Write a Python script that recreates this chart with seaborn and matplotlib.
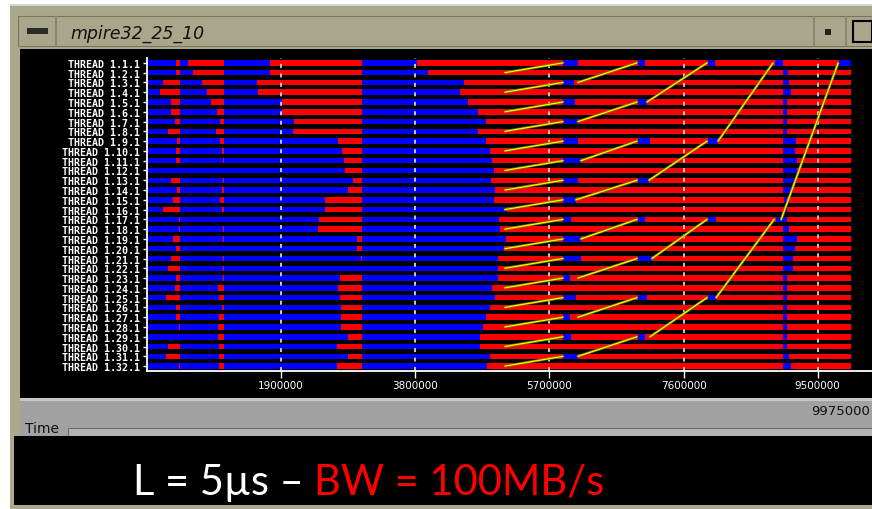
import pandas as pd
import seaborn as sns
import matplotlib
matplotlib.use("Agg")
import matplotlib.pyplot as plt
import matplotlib.patheffects as pe
from matplotlib.patches import Rectangle
from matplotlib.text import Annotation

# ---- trace data (time units, 32 threads) ----
threads = list(range(1, 33))
thread_labels = [f"THREAD 1.{i}.1" for i in threads]
end_time = 9975000

# first short red burst (ends at the same time for every thread)
red1_end = 461000
red1_start = [404000, 404000, 220000, 191000, 347000, 333000, 390000, 291000,
              432000, 404000, 404000, None, 347000, 418000, 362000, 220000,
              447000, 447000, 362000, 404000, 347000, 291000, 404000, 390000,
              276000, 404000, 404000, 447000, None, 291000, 276000, 447000]

# second red burst
red2_end = 1085000
red2_start = [574000, 645000, 773000, 844000, 900000, 985000, 1028000, 971000,
              1028000, 1056000, 1071000, None, 1071000, 1056000, 1028000, 1056000,
              None, 1071000, 1071000, None, 1071000, 1071000, 1071000, 1000000,
              1014000, 1056000, 1014000, 1000000, 1000000, 1014000, 1014000, 1014000]

# third red phase
red3_end = 3041000
red3_start = [1737000, 1737000, 1553000, 1567000, 1907000, 1907000, 2077000, 2063000,
              2701000, 2758000, 2786000, 2800000, 2914000, 2843000, 2517000, 2517000,
              2432000, 2418000, 2971000, 2971000, 3027000, None, 2730000, 2701000,
              2730000, 2744000, 2744000, 2744000, 2843000, 2687000, 2843000, 2687000]

# start of the final red (communication) phase
final_red_start = [3821000, 3984000, 4488000, 4431000, 4544000, 4686000, 4800000, 4686000,
                   4800000, 4857000, 4885000, 4914000, 4871000, 4928000, 4914000, 5098000,
                   4985000, 4999000, 5083000, 5055000, 4970000, 4970000, 4970000, 4885000,
                   4928000, 4857000, 4800000, 4757000, 4715000, 4715000, 4857000, 4814000]

# blue spots inside the red phase
recv1_threads = [1, 3, 5, 7, 9, 11, 13, 15, 17, 19, 21, 23, 25, 27, 29, 31]
recv1_start = 5891000
recv1_end = [6104000, 6047000, 6061000, 6104000, 6104000, 6146000, 6104000, 6075000,
             6005000, 6146000, 6146000, 5990000, 6075000, 5990000, 6005000, 6104000]

recv2_threads = [1, 5, 9, 13, 17, 21, 25, 29]
recv2_start = 6955000
recv2_end = [7054000, 7082000, 7125000, 7111000, 7054000, 7153000, 7082000, 7054000]

recv3_threads = [1, 9, 17, 25]
recv3_start = 7947000
recv3_end = [8046000, 8089000, 8061000, 8061000]

sync_start = [8898000, 9011000, 9011000, 9011000, 9011000, 9011000, 9011000, 9011000,
              9011000, 9011000, 9011000, 9011000, 9011000, 9011000, 9025000, 9025000,
              8912000, 9011000, 9011000, 9011000, 9011000, 9011000, 9011000, 9011000,
              9011000, 9011000, 9011000, 9011000, 9011000, 9011000, 9011000, 9011000]
sync_end = [9011000, 9082000, 9096000, 9125000, 9068000, 9068000, 9068000, 9068000,
            9196000, 9181000, 9210000, 9210000, 9181000, 9153000, 9068000, 9068000,
            9068000, 9096000, 9210000, 9181000, 9153000, 9153000, 9068000, 9068000,
            9068000, 9068000, 9068000, 9068000, 9068000, 9068000, 9096000, 9125000]

final_blue_thread = 1
final_blue_start = 9806000

# messages (yellow lines): sender thread/time -> receiver thread/time
msg_from = [2, 4, 6, 8, 10, 12, 14, 16, 18, 20, 22, 24, 26, 28, 30, 32,
            3, 7, 11, 15, 19, 23, 27, 31, 5, 13, 21, 29, 9, 25, 17]
msg_send = [5069000, 5069000, 5069000, 5069000, 5069000, 5069000, 5069000, 5069000,
            5069000, 5069000, 5069000, 5069000, 5069000, 5069000, 5069000, 5069000,
            6104000, 6104000, 6146000, 6075000, 6146000, 6104000, 6104000, 6104000,
            7082000, 7111000, 7153000, 7125000, 8089000, 8061000, 8983000]
msg_to = [1, 3, 5, 7, 9, 11, 13, 15, 17, 19, 21, 23, 25, 27, 29, 31,
          1, 5, 9, 13, 17, 21, 25, 29, 1, 9, 17, 25, 1, 17, 1]
msg_recv = [5891000, 5891000, 5891000, 5891000, 5891000, 5891000, 5891000, 5891000,
            5891000, 5891000, 5891000, 5891000, 5891000, 5891000, 5891000, 5891000,
            6941000, 6941000, 6941000, 6941000, 6941000, 6941000, 6941000, 6941000,
            7933000, 7933000, 7933000, 7933000, 8869000, 8884000, 9791000]

tick_values = [1900000, 3800000, 5700000, 7600000, 9500000]
tick_labels = ["1900000", "3800000", "5700000", "7600000", "9500000"]

BLUE, RED, YELLOW = "#0000ff", "#ff0000", "#ffff00"
BAR_H = 0.56

sns.set_theme(style="dark", rc={"axes.facecolor": "black"})
plt.rcParams["font.family"] = ["DejaVu Sans"]

W, H = 872, 510
fig = plt.figure(figsize=(W / 100, H / 100), dpi=100)
fig.patch.set_facecolor("white")


def box(x0, y0, x1, y1, color, z=-2, ec="none", lw=0):
    fig.add_artist(Rectangle((x0 / W, 1 - y1 / H), (x1 - x0) / W, (y1 - y0) / H,
                             transform=fig.transFigure, facecolor=color,
                             edgecolor=ec, lw=lw, zorder=z))


# window chrome
box(10, 5, 872, 510, "#aca88e", z=-5)
box(10, 5, 872, 7, "#d9d6c4", z=-4)
box(18, 17, 872, 47, "#aaa68b", z=-4, ec="#77745f", lw=0.8)
box(55, 17, 57, 47, "#8a8770", z=-3)
box(813, 17, 815, 47, "#8a8770", z=-3)
box(845, 17, 847, 47, "#8a8770", z=-3)
box(27, 29, 48, 35, "#2a2a2a", z=-3)
box(825, 30, 831, 36, "#222222", z=-3)
box(853, 22, 872, 43, "#aaa68b", z=-3, ec="black", lw=1.5)
box(20, 50, 872, 399, "black", z=-3)
box(20, 399, 872, 437, "#a2a2a2", z=-3)
box(20, 399, 872, 402, "#c8c8c8", z=-2)
box(68, 429, 872, 437, "#b4b4b4", z=-2, ec="#6e6e6e", lw=0.8)
fig.text(70 / W, 1 - 39 / H, "mpire32_25_10", style="italic", fontsize=12.5,
         color="#111111", va="baseline", zorder=3)
fig.text(25 / W, 1 - 433 / H, "Time", fontsize=10, color="#111111",
         va="baseline", zorder=3)
fig.text(870 / W, 1 - 412 / H, "9975000", fontsize=9.5, color="#111111",
         va="center", ha="right", zorder=3)

# caption box
box(14, 437, 872, 506, "black", z=5)
t1 = fig.text(133 / W, 1 - 495 / H, "L = 5µs – ", fontsize=30, color="white",
              family=["Lato", "DejaVu Sans"], va="baseline", zorder=6)
fig.add_artist(Annotation("BW = 100MB/s", xy=(1, 0), xycoords=t1, va="bottom",
                          ha="left", fontsize=30, color=RED,
                          family=["Lato", "DejaVu Sans"], zorder=6))

# trace axes
ax = fig.add_axes([147 / W, 1 - 372 / H, (872 - 147) / W, (372 - 59) / H])
ax.set_facecolor("black")

# base: running (blue) until the final phase, then red
ax.barh(threads, final_red_start, left=0, height=BAR_H, color=BLUE, lw=0, zorder=1)
ax.barh(threads, [end_time - s for s in final_red_start], left=final_red_start,
        height=BAR_H, color=RED, lw=0, zorder=1)

for starts, stop in [(red1_start, red1_end), (red2_start, red2_end), (red3_start, red3_end)]:
    rows = [t for t, s in zip(threads, starts) if s is not None]
    lefts = [s for s in starts if s is not None]
    ax.barh(rows, [stop - s for s in lefts], left=lefts, height=BAR_H,
            color=RED, lw=0, zorder=1.2)

for rows, start, stops in [(recv1_threads, recv1_start, recv1_end),
                           (recv2_threads, recv2_start, recv2_end),
                           (recv3_threads, recv3_start, recv3_end)]:
    ax.barh(rows, [e - start for e in stops], left=start, height=BAR_H,
            color=BLUE, lw=0, zorder=1.2)
ax.barh(threads, [e - s for s, e in zip(sync_start, sync_end)], left=sync_start,
        height=BAR_H, color=BLUE, lw=0, zorder=1.2)
ax.barh([final_blue_thread], [end_time - final_blue_start], left=final_blue_start,
        height=BAR_H, color=BLUE, lw=0, zorder=1.2)

# dashed time grid
for v in tick_values:
    ax.axvline(v, color="white", lw=1.1, ls=(0, (2.6, 3.6)), zorder=2.5)

# communication lines
msgs = pd.DataFrame({
    "msg": list(range(len(msg_from))) * 2,
    "time": msg_send + msg_recv,
    "thread": msg_from + msg_to,
})
sns.lineplot(data=msgs, x="time", y="thread", units="msg", estimator=None,
             sort=False, color=YELLOW, lw=0.8, ax=ax, zorder=3,
             path_effects=[pe.Stroke(linewidth=1.9, foreground="#7a7a00"), pe.Normal()])

ax.set_xlim(0, 10270000)
ax.set_ylim(32.5, 0.5)
ax.set_xlabel("")
ax.set_ylabel("")
ax.set_xticks(tick_values)
ax.set_xticklabels(tick_labels, color="white", fontsize=7.5)
ax.set_yticks(threads)
ax.set_yticklabels(thread_labels, color="white", fontsize=7.2, fontweight="bold",
                   family="DejaVu Sans Mono")
ax.tick_params(axis="x", colors="white", length=5, width=1, pad=1.5, direction="out",
               bottom=True)
ax.tick_params(axis="y", colors="white", length=3, width=1, pad=2, direction="out",
               left=True)
ax.grid(False)
for side in ["top", "right"]:
    ax.spines[side].set_visible(False)
for side in ["left", "bottom"]:
    ax.spines[side].set_visible(True)
    ax.spines[side].set_color("white")
    ax.spines[side].set_linewidth(1.3)

fig.savefig("out.png", dpi=100, facecolor=fig.get_facecolor())
